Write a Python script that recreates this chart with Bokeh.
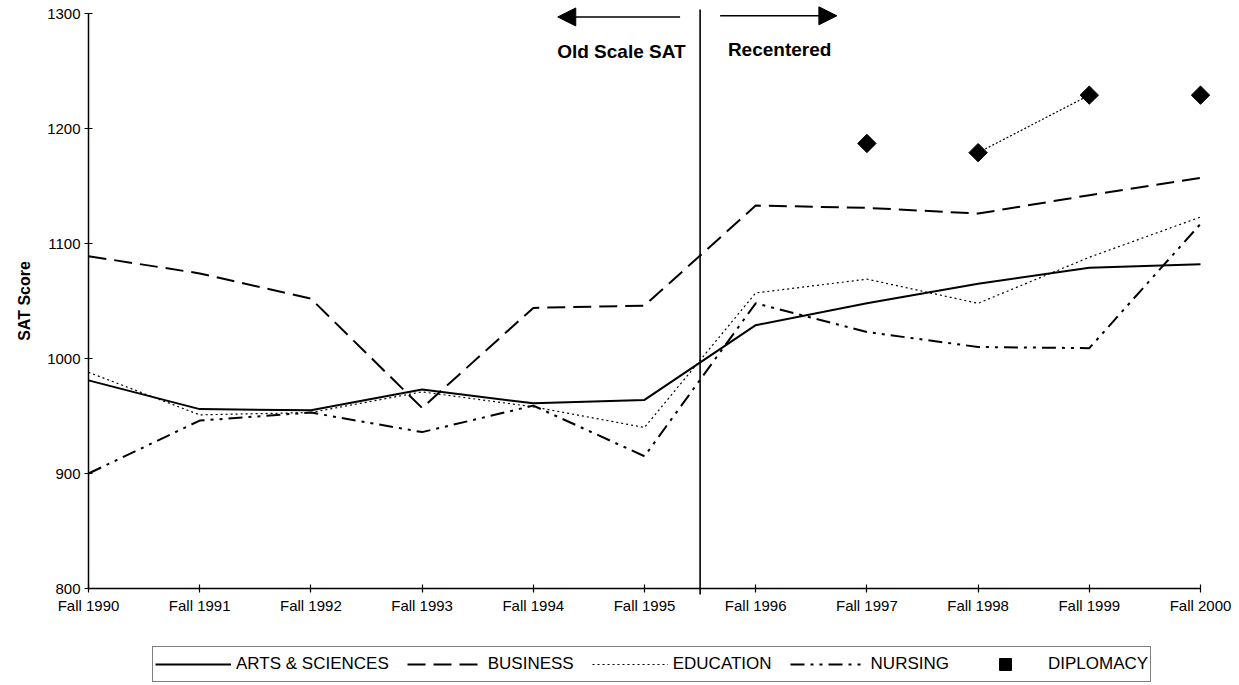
import math
from bokeh.plotting import figure
from bokeh.models import (Range1d, FixedTicker, Legend, LegendItem, Arrow,
                          NormalHead, Label)
from bokeh.embed import file_html
from bokeh.resources import INLINE

# ---------------- data ----------------
TERMS = ["Fall 1990", "Fall 1991", "Fall 1992", "Fall 1993", "Fall 1994", "Fall 1995",
         "Fall 1996", "Fall 1997", "Fall 1998", "Fall 1999", "Fall 2000"]
ARTS = [981, 956, 955, 973, 961, 964, 1029, 1048, 1065, 1079, 1082]
BUSINESS = [1089, 1074, 1052, 957, 1044, 1046, 1133, 1131, 1126, 1142, 1157]
EDUCATION = [988, 951, 953, 971, 958, 940, 1057, 1069, 1048, 1088, 1123]
NURSING = [900, 946, 953, 936, 959, 915, 1048, 1023, 1010, 1009, 1117]
DIPLOMACY = [None, None, None, None, None, None, None, 1187, 1179, 1229, 1229]
DIPLOMACY_LINKED = ["Fall 1998", "Fall 1999"]   # the only two diplomacy points joined by a line
Y_TICKS = [800, 900, 1000, 1100, 1200, 1300]
DIVIDER_AFTER = "Fall 1995"                    # recentering happened between 1995 and 1996

FONT = "Liberation Sans"
x = list(range(len(TERMS)))
last = len(TERMS) - 1

# layout (pixels): axes box 88..1200 x 13..588, legend strip under it
W, H = 1239, 685
TOP, AXIS_Y, AXIS_X0, AXIS_X1 = 13, 588, 88, 1200
uy = (Y_TICKS[-1] - Y_TICKS[0]) / (AXIS_Y - TOP)     # data units per pixel, y
ux = last / (AXIS_X1 - AXIS_X0)                       # data units per pixel, x
y_lo = Y_TICKS[0] - (H - AXIS_Y) * uy
y_hi = Y_TICKS[-1] + TOP * uy
x_lo = -AXIS_X0 * ux
x_hi = last + (W - AXIS_X1) * ux

p = figure(output_backend="svg", toolbar_location=None, width=W, height=H,
           min_border_left=0, min_border_right=0, min_border_top=0, min_border_bottom=0,
           x_range=Range1d(x_lo, x_hi), y_range=Range1d(y_lo, y_hi))
p.background_fill_color = "white"
p.border_fill_color = "white"
p.outline_line_color = None
p.xgrid.visible = False
p.ygrid.visible = False

# axes
p.xaxis.ticker = FixedTicker(ticks=x)
p.xaxis.bounds = (0, last)
p.xaxis.fixed_location = Y_TICKS[0]
p.xaxis.major_label_overrides = {i: t for i, t in enumerate(TERMS)}
p.yaxis.ticker = FixedTicker(ticks=Y_TICKS)
p.yaxis.bounds = (Y_TICKS[0], Y_TICKS[-1])
p.yaxis.fixed_location = 0
for ax in (p.xaxis[0], p.yaxis[0]):
    ax.axis_line_color = "black"
    ax.axis_line_width = 1.5
    ax.major_tick_line_color = "black"
    ax.major_tick_line_width = 1.2
    ax.major_tick_in = 4
    ax.major_tick_out = 4
    ax.minor_tick_line_color = None
    ax.major_label_text_font = FONT
    ax.major_label_text_font_size = "15px"
    ax.major_label_text_color = "black"
    ax.major_label_standoff = 4
p.add_layout(Label(x=24, x_units="screen", y=(Y_TICKS[0] + Y_TICKS[-1]) / 2, text="SAT Score",
                   angle=math.pi / 2, text_align="center", text_baseline="middle",
                   text_font=FONT, text_font_size="16px", text_font_style="bold",
                   text_color="black"))

# series
r_arts = p.line(x, ARTS, line_color="black", line_width=2)
r_bus = p.line(x, BUSINESS, line_color="black", line_width=2, line_dash="18 8")
r_edu = p.line(x, EDUCATION, line_color="black", line_width=1.2, line_dash="2 3")
r_nur = p.line(x, NURSING, line_color="black", line_width=2, line_dash="14 6 3 6 3 6")

dip_x = [i for i, v in zip(x, DIPLOMACY) if v is not None]
dip_y = [v for v in DIPLOMACY if v is not None]
link_x = [TERMS.index(t) for t in DIPLOMACY_LINKED]
link_y = [DIPLOMACY[i] for i in link_x]
p.line(link_x, link_y, line_color="black", line_width=1.2, line_dash="2 2")
r_dip = p.scatter(dip_x, dip_y, marker="square", angle=math.pi / 4, size=13,
                  fill_color="black", line_color="black")

# divider (runs a little past the axis box) and annotations
div_x = TERMS.index(DIVIDER_AFTER) + 0.5
p.segment(x0=[div_x], y0=[Y_TICKS[0] - 6 * uy], x1=[div_x], y1=[Y_TICKS[-1] + 4 * uy],
          line_color="black", line_width=1.6)
y_top = Y_TICKS[-1]
p.add_layout(Arrow(end=NormalHead(size=18, fill_color="black", line_color="black"),
                   x_start=div_x - 0.18, y_start=y_top - 3, x_end=div_x - 1.28, y_end=y_top - 3,
                   line_color="black", line_width=1.6))
p.add_layout(Arrow(end=NormalHead(size=18, fill_color="black", line_color="black"),
                   x_start=div_x + 0.18, y_start=y_top - 2, x_end=div_x + 1.23, y_end=y_top - 2,
                   line_color="black", line_width=1.6))
p.add_layout(Label(x=div_x - 0.13, y=y_top - 33, text="Old Scale SAT", text_align="right",
                   text_baseline="alphabetic", text_font=FONT, text_font_size="19px",
                   text_font_style="bold", text_color="black"))
p.add_layout(Label(x=div_x + 0.25, y=y_top - 31, text="Recentered", text_align="left",
                   text_baseline="alphabetic", text_font=FONT, text_font_size="19px",
                   text_font_style="bold", text_color="black"))

# legend box under the axis (screen offsets from the frame's lower-left corner)
legend = Legend(items=[
    LegendItem(label="ARTS & SCIENCES", renderers=[r_arts]),
    LegendItem(label="BUSINESS", renderers=[r_bus]),
    LegendItem(label="EDUCATION", renderers=[r_edu]),
    LegendItem(label="NURSING", renderers=[r_nur]),
    LegendItem(label="DIPLOMACY", renderers=[r_dip]),
], orientation="horizontal", location=(152, 3))
legend.label_text_font = FONT
legend.label_text_font_size = "17px"
legend.label_text_color = "black"
legend.glyph_width = 76
legend.glyph_height = 30
legend.label_height = 22
legend.label_standoff = 5
legend.spacing = 18
legend.padding = 2
legend.margin = 0
legend.border_line_color = "black"
legend.border_line_width = 1.2
legend.background_fill_color = "white"
legend.background_fill_alpha = 1.0
p.add_layout(legend, "center")

open("out.html", "w").write(file_html(p, INLINE))
